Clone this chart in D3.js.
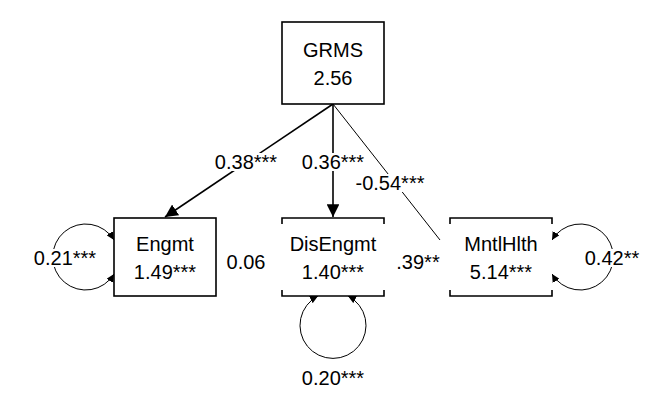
<!DOCTYPE html>
<html><head><meta charset="utf-8">
<script src="https://cdn.jsdelivr.net/npm/d3@7"></script>
<style>body{margin:0;background:#fff}text{font-family:"Liberation Sans",Arial,sans-serif;font-size:20px}</style>
</head><body><svg id="c" width="660" height="407"></svg>
<script>
var nodeNames = ["GRMS","Engmt","DisEngmt","MntlHlth"];
var nodeValues = ["2.56","1.49***","1.40***","5.14***"];
var pathLabels = ["0.38***","0.36***","-0.54***"];
var covLabels = ["0.06",".39**"];
var residLabels = ["0.21***","0.20***","0.42**"];

var svg = d3.select("#c");
var x = d3.scaleLinear().domain([0,3]).range([333,333]);
var cx = {GRMS:333, Engmt:165, DisEngmt:333, MntlHlth:501};
var cy = {GRMS:63, Engmt:257, DisEngmt:257, MntlHlth:257};
var defs = svg.append("defs");
defs.append("marker").attr("id","ah").attr("viewBox","0 0 10 10").attr("refX",10).attr("refY",5)
  .attr("markerWidth",8).attr("markerHeight",8).attr("orient","auto-start-reverse")
  .append("path").attr("d","M0,0L10,5L0,10z");

// residual loops
var g = svg.append("g");
g.append("path").attr("d","M114,240 A33,33 0 1 0 114,274").attr("fill","none").attr("stroke","#000")
  .attr("marker-start","url(#ah)").attr("marker-end","url(#ah)");
g.append("path").attr("d","M318,296 A33,33 0 1 0 348,296").attr("fill","none").attr("stroke","#000")
  .attr("marker-start","url(#ah)").attr("marker-end","url(#ah)");
g.append("path").attr("d","M552,240 A33,33 0 1 1 552,274").attr("fill","none").attr("stroke","#000")
  .attr("marker-start","url(#ah)").attr("marker-end","url(#ah)");

// regression paths
svg.append("line").attr("x1",333).attr("y1",104).attr("x2",165).attr("y2",217).attr("stroke","#000").attr("stroke-width",1.6).attr("marker-end","url(#ah)");
svg.append("line").attr("x1",333).attr("y1",104).attr("x2",333).attr("y2",217).attr("stroke","#000").attr("stroke-width",1.6).attr("marker-end","url(#ah)");
svg.append("line").attr("x1",333).attr("y1",104).attr("x2",440).attr("y2",240).attr("stroke","#000").attr("stroke-width",1);

function label(t, xx, yy, anchor){
  var tx = svg.append("text").attr("x",xx).attr("y",yy).attr("text-anchor",anchor||"middle").attr("dominant-baseline","central").text(t);
  var b = tx.node().getBBox();
  svg.insert("rect", function(){return tx.node();}).attr("x",b.x).attr("y",b.y+2).attr("width",b.width).attr("height",b.height-4).attr("fill","#fff");
}
label(pathLabels[0],246,162);
label(pathLabels[1],333,162);
label(pathLabels[2],390,183);
label(covLabels[0],246,262);
label(covLabels[1],418,262,"middle");
label(residLabels[0],65,258);
label(residLabels[1],333,378);
label(residLabels[2],612,258);
svg.append("rect").attr("x",0).attr("y",230).attr("width",17).attr("height",50).attr("fill","#fff");

// nodes
nodeNames.forEach(function(n,i){
  var bx = cx[n]-51, by = (i==0?22:218), bh = (i==0?82:78);
  if(i<2){
    svg.append("rect").attr("x",bx).attr("y",by).attr("width",102).attr("height",bh).attr("fill","#fff").attr("stroke","#000").attr("stroke-width",1.6);
  } else {
    svg.append("rect").attr("x",bx).attr("y",by).attr("width",102).attr("height",bh).attr("fill","#fff");
    var p = "M"+bx+","+(by+6)+"V"+by+"H"+(bx+102)+"V"+(by+6)+"M"+bx+","+(by+bh-6)+"V"+(by+bh)+"H"+(bx+102)+"V"+(by+bh-6);
    svg.append("path").attr("d",p).attr("fill","none").attr("stroke","#000").attr("stroke-width",1.6);
  }
  svg.append("text").attr("x",cx[n]).attr("y",by+bh/2-13).attr("text-anchor","middle").attr("dominant-baseline","central").text(n);
  svg.append("text").attr("x",cx[n]).attr("y",by+bh/2+15).attr("text-anchor","middle").attr("dominant-baseline","central").text(nodeValues[i]);
});
</script></body></html>
